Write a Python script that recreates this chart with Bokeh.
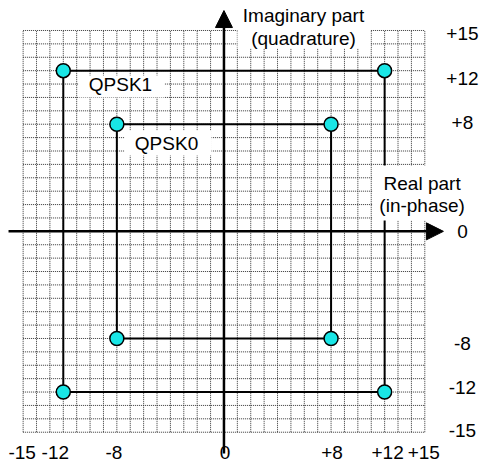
from bokeh.plotting import figure
from bokeh.models import Arrow, NormalHead, Range1d
from bokeh.core.properties import value
from bokeh.embed import file_html
from bokeh.resources import INLINE

# ---- data ----
GRID = list(range(-15, 16))
QPSK0_I = [-8, 8, 8, -8]
QPSK0_Q = [8, 8, -8, -8]
QPSK1_I = [-12, 12, 12, -12]
QPSK1_Q = [12, 12, -12, -12]
TICKS = [-15, -12, -8, 0, 8, 12, 15]
TICK_LABELS = ["-15", "-12", "-8", "0", "+8", "+12", "+15"]

# small screen-pixel nudges of the tick labels (layout only)
RIGHT_NUDGE = [-2, -5, 5, 0, -2, 8, 3]
BOTTOM_NUDGE = [-1, -8, -3, 1, 1, 3, -1]

FONT = value("Liberation Sans")
FS = "19px"

p = figure(width=480, height=468, output_backend="svg", toolbar_location=None,
           x_range=Range1d(-16.69, 19.16), y_range=Range1d(-17.71, 17.24),
           min_border=0)
p.axis.visible = False
p.grid.visible = False
p.outline_line_color = None
p.background_fill_color = "white"
p.border_fill_color = "white"

lo, hi = GRID[0], GRID[-1]
# dotted grid
p.segment(x0=GRID, y0=[lo]*len(GRID), x1=GRID, y1=[hi]*len(GRID),
          line_color="#333333", line_width=1, line_dash="1 1")
p.segment(x0=[lo]*len(GRID), y0=GRID, x1=[hi]*len(GRID), y1=GRID,
          line_color="#333333", line_width=1, line_dash="1 1")

# constellation squares
p.patch(QPSK1_I, QPSK1_Q, fill_color=None, line_color="black", line_width=2)
p.patch(QPSK0_I, QPSK0_Q, fill_color=None, line_color="black", line_width=2)

# white label backgrounds
BOX_L = [1.01, 11.09, -10.87, -7.43]
BOX_R = [10.94, 19.2, -4.44, -0.93]
BOX_T = [17.3, 4.92, 11.64, 7.53]
BOX_B = [13.65, 0.81, 10.0, 5.66]
p.quad(left=BOX_L, right=BOX_R, top=BOX_T, bottom=BOX_B,
       fill_color="white", line_color=None)

# annotation texts
p.text(x=[5.94, 5.94, 14.8, 14.8, -7.73, -4.29],
       y=[16.12, 14.4, 3.57, 1.93, 10.96, 6.57],
       text=["Imaginary part", "(quadrature)", "Real part", "(in-phase)", "QPSK1", "QPSK0"],
       text_font=FONT, text_font_size=FS, text_align="center",
       text_baseline="middle", text_color="black")

# tick labels
p.text(x=[17.81]*len(TICKS), y=TICKS, y_offset=RIGHT_NUDGE, text=TICK_LABELS,
       text_font=FONT, text_font_size=FS, text_align="center",
       text_baseline="middle", text_color="black")
p.text(x=TICKS, y=[-16.52]*len(TICKS), x_offset=BOTTOM_NUDGE, text=TICK_LABELS,
       text_font=FONT, text_font_size=FS, text_align="center",
       text_baseline="middle", text_color="black")

# axes with arrows
p.add_layout(Arrow(end=NormalHead(size=17, fill_color="black", line_color="black"),
                   x_start=-16.09, y_start=0, x_end=16.39, y_end=0,
                   line_color="black", line_width=2.5))
p.add_layout(Arrow(end=NormalHead(size=17, fill_color="black", line_color="black"),
                   x_start=0, y_start=-16.59, x_end=0, y_end=16.49,
                   line_color="black", line_width=2.5))

# constellation points
p.scatter(QPSK1_I, QPSK1_Q, size=14, fill_color="#19e6e6", line_color="black", line_width=1.5)
p.scatter(QPSK0_I, QPSK0_Q, size=14, fill_color="#19e6e6", line_color="black", line_width=1.5)

open("out.html", "w").write(file_html(p, INLINE))
